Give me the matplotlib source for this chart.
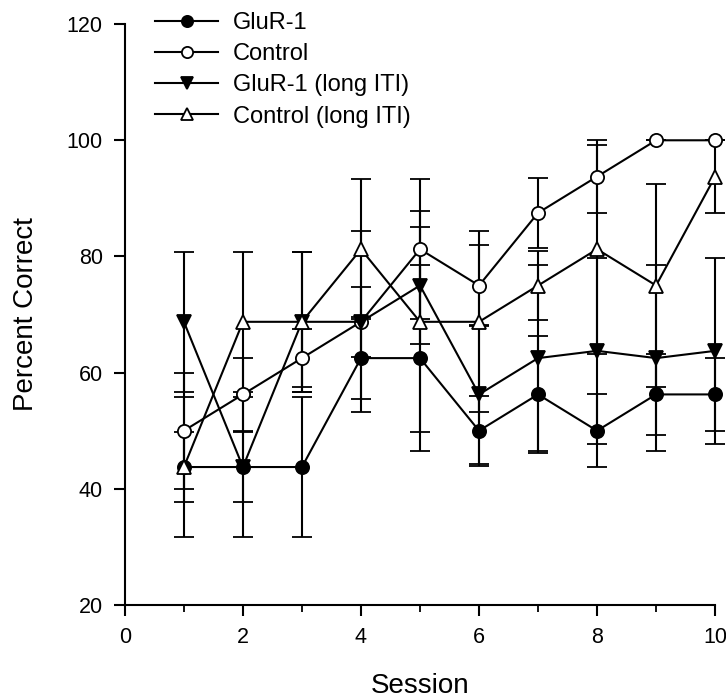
import matplotlib
matplotlib.use('Agg')
import matplotlib.pyplot as plt
from matplotlib.ticker import MultipleLocator

plt.rcParams['font.family'] = ['Liberation Sans', 'DejaVu Sans']

session = [1, 2, 3, 4, 5, 6, 7, 8, 9, 10]

glur = [43.75, 43.75, 43.75, 62.5, 62.5, 50, 56.25, 50, 56.25, 56.25]
glur_err = [12, 12, 12, 7, 16, 6, 10, 6.25, 7, 6.25]

control = [50, 56.25, 62.5, 68.75, 81.25, 75, 87.5, 93.75, 100, 100]
control_err = [10, 6.25, 5, 6, 12, 7, 6, 6.25, 0, 0]

glur_long = [68.75, 43.75, 68.75, 68.75, 75, 56.25, 62.5, 63.75, 62.5, 63.75]
glur_long_err = [12, 6, 12, 15.6, 10, 12, 16, 16, 16, 16]

control_long = [43.75, 68.75, 68.75, 81.25, 68.75, 68.75, 75, 81.25, 75, 93.75]
control_long_err = [6, 12, 12, 12, 19, 15.6, 6, 18, 17.5, 6.25]

labels = ['GluR-1', 'Control', 'GluR-1 (long ITI)', 'Control (long ITI)']

fig = plt.figure(figsize=(7.26, 6.99), dpi=100)
ax = fig.add_axes([0.172, 0.1345, 0.813, 0.831])

series = [
    (glur, glur_err, 'o', 'black'),
    (control, control_err, 'o', 'white'),
    (glur_long, glur_long_err, 'v', 'black'),
    (control_long, control_long_err, '^', 'white'),
]

handles = []
for (vals, errs, m, fc), lab in zip(series, labels):
    eb = ax.errorbar(session, vals, yerr=errs, fmt='-', color='black', lw=1.5,
                     marker=m, markersize=9.5, markerfacecolor=fc,
                     markeredgecolor='black', markeredgewidth=1.3,
                     ecolor='black', elinewidth=1.5, capsize=7, capthick=1.5,
                     label=lab)
    handles.append(eb[0])

ax.set_xlim(0, 10)
ax.set_ylim(20, 120)
ax.xaxis.set_major_locator(MultipleLocator(2))
ax.xaxis.set_minor_locator(MultipleLocator(1))
ax.yaxis.set_major_locator(MultipleLocator(20))
ax.spines['top'].set_visible(False)
ax.spines['right'].set_visible(False)
ax.spines['left'].set_linewidth(1.5)
ax.spines['bottom'].set_linewidth(1.5)
ax.tick_params(which='major', direction='out', length=8, width=1.5, labelsize=15.5, pad=8)
ax.tick_params(which='minor', direction='out', length=5, width=1.3)
for c in ax.get_children():
    c.set_clip_on(False)

ax.set_xlabel('Session', fontsize=20, labelpad=18)
ax.set_ylabel('Percent Correct', fontsize=20, labelpad=20)

leg = ax.legend(handles, labels, loc='upper left', bbox_to_anchor=(0.2135, 0.983),
                bbox_transform=fig.transFigure, frameon=False, fontsize=17,
                handlelength=2.67, handletextpad=0.64, labelspacing=0.39,
                borderpad=0, borderaxespad=0,
                numpoints=1, markerscale=0.85)

plt.savefig('out.png', dpi=100)
